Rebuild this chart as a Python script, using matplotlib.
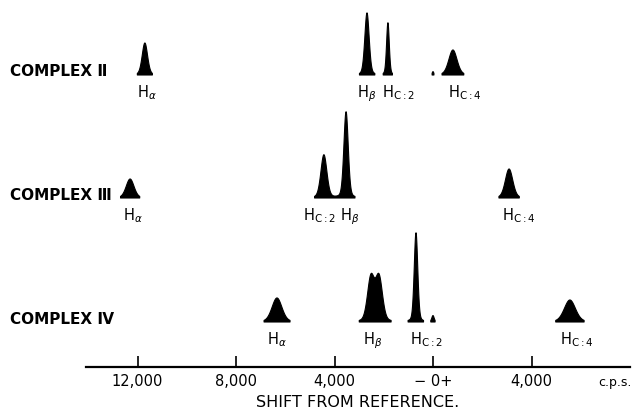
import numpy as np
import matplotlib
matplotlib.use("Agg")
import matplotlib.pyplot as plt
from matplotlib.transforms import blended_transform_factory

plt.rcParams['font.family'] = ['DejaVu Sans']
plt.rcParams['mathtext.fontset'] = 'dejavusans'

# ---- data (shift in c.p.s., negative = left of reference) ----
complex_names = ["COMPLEX Ⅱ", "COMPLEX Ⅲ", "COMPLEX Ⅳ"]

c2_centers = [-11700, -2680, -1830, 0, 810]
c2_heights = [32, 62, 52, 3, 25]
c2_widths = [260, 210, 130, 70, 400]

c3_centers = [-12300, -4430, -3530, 3090]
c3_heights = [19, 43, 86, 29]
c3_widths = [380, 290, 210, 360]

c4_centers = [-6335, -2520, -2190, -690, 0, 5560]
c4_heights = [24, 44, 44, 89, 6, 22]
c4_widths = [480, 330, 330, 170, 110, 540]

c2_labels = [r"H$_{\alpha}$", r"H$_{\beta}$", r"H$_{\mathrm{C{:}2}}$", r"H$_{\mathrm{C{:}4}}$"]
c2_label_at = [-11700, -2680, -1830, 810]
c3_labels = [r"H$_{\alpha}$", r"H$_{\mathrm{C{:}2}}$", r"H$_{\beta}$", r"H$_{\mathrm{C{:}4}}$"]
c3_label_at = [-12300, -4430, -3530, 3090]
c4_labels = [r"H$_{\alpha}$", r"H$_{\beta}$", r"H$_{\mathrm{C{:}2}}$", r"H$_{\mathrm{C{:}4}}$"]
c4_label_at = [-6335, -2355, -690, 5560]

tick_pos = [-12000, -8000, -4000, 0, 4000]
tick_labels = ["12,000", "8,000", "4,000", "\u2212 0+", "4,000"]

# ---- layout ----
W, H = 633, 411
fig = plt.figure(figsize=(W / 100, H / 100), dpi=100)
ax = fig.add_axes([86 / W, 44 / H, 544 / W, 367 / H])
px_per_cps = 0.024625
xmin = (86 - 433) / px_per_cps
xmax = (630 - 433) / px_per_cps
ax.set_xlim(xmin, xmax)
ax.set_ylim(0, 367)

baselines = [292, 169, 45]
label_offsets = [[-8, -10, -6, -5], [-7, -21, -6, -7], [-10, -12, -6, -10]]

x = np.linspace(xmin, xmax, 8000)


def spectrum(centers, heights, widths):
    y = np.zeros_like(x)
    for c, h, w in zip(centers, heights, widths):
        g = np.exp(-4 * np.log(2) * ((x - c) / w) ** 2)
        l = 1.0 / (1 + 4 * ((x - c) / w) ** 2)
        y += h * (0.78 * g + 0.22 * l)
    y[y < 1.6] = 0
    return y


sets = [(c2_centers, c2_heights, c2_widths, c2_labels, c2_label_at),
        (c3_centers, c3_heights, c3_widths, c3_labels, c3_label_at),
        (c4_centers, c4_heights, c4_widths, c4_labels, c4_label_at)]

tr_name = blended_transform_factory(fig.transFigure, ax.transData)
for i, (cen, hts, wds, labs, lat) in enumerate(sets):
    b = baselines[i]
    y = spectrum(cen, hts, wds)
    ax.fill_between(x, b, b + y, where=y > 0, color="black", linewidth=0.8)
    for lab, xa, off in zip(labs, lat, label_offsets[i]):
        ax.annotate(lab, xy=(xa, b), xytext=(off * 0.72, -6), textcoords="offset points",
                    ha="left", va="top", fontsize=10.5, color="black")
    ax.text(10 / W, b + 3, complex_names[i], transform=tr_name, ha="left", va="center",
            fontsize=11, fontweight="bold", color="black")

for s in ["left", "right", "top"]:
    ax.spines[s].set_visible(False)
ax.spines["bottom"].set_linewidth(1.6)
ax.set_yticks([])
ax.set_xticks(tick_pos)
ax.set_xticklabels(tick_labels)
ax.tick_params(axis="x", direction="in", length=8, width=1.2, pad=5, labelsize=10.5)
ax.set_xlabel("SHIFT FROM REFERENCE.", fontsize=11.5, labelpad=4)
ax.annotate("c.p.s.", xy=(7390, 0), xytext=(0, -11), textcoords="offset points",
            ha="center", va="center", fontsize=9)

fig.savefig("out.png", dpi=100)
